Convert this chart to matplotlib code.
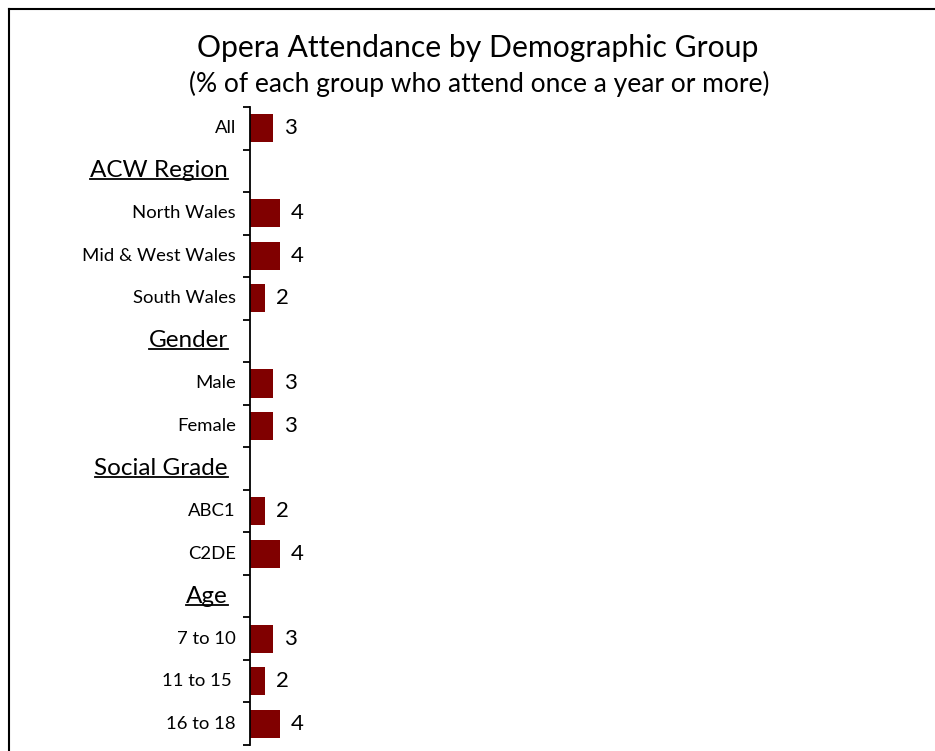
import matplotlib
matplotlib.use("Agg")
import matplotlib.pyplot as plt
from matplotlib.lines import Line2D
from matplotlib.transforms import blended_transform_factory, offset_copy

plt.rcParams['font.family'] = ['Lato', 'DejaVu Sans']

# Rows from top to bottom; headers have no value
categories = ["All", "ACW Region", "North Wales", "Mid & West Wales", "South Wales",
              "Gender", "Male", "Female", "Social Grade", "ABC1", "C2DE",
              "Age", "7 to 10", "11 to 15 ", "16 to 18"]
values = [3, None, 4, 4, 2, None, 3, 3, None, 2, 4, None, 3, 2, 4]
headers = ["ACW Region", "Gender", "Social Grade", "Age"]

title = "Opera Attendance by Demographic Group"
subtitle = "(% of each group who attend once a year or more)"

bar_color = "#800000"

fig = plt.figure(figsize=(9.35, 7.51), dpi=100)
ax = fig.add_axes([250 / 935, 1 - 745 / 751, 675 / 935, (745 - 107) / 751])

rows = list(range(len(categories)))
for y, v in zip(rows, values):
    if v is None:
        continue
    ax.barh(y, v, height=0.66, color=bar_color, edgecolor="none")
    ax.annotate(str(v), xy=(v, y), xytext=(8, 0), textcoords="offset points",
                ha="left", va="center", fontsize=16, color="black")

ax.set_xlim(0, 90)
ax.set_ylim(len(categories) - 0.5, -0.5)
ax.set_xticks([])
ax.set_yticks([r - 0.5 for r in rows] + [len(categories) - 0.5])
ax.set_yticklabels([])
ax.tick_params(axis="y", direction="out", length=5, width=1.3, color="black")
for s in ["top", "right", "bottom"]:
    ax.spines[s].set_visible(False)
ax.spines["left"].set_linewidth(1.3)

# Category labels left of the axis
trans = blended_transform_factory(ax.transAxes, ax.transData)
label_texts = []
for y, name in zip(rows, categories):
    if name in headers:
        t = ax.text(0, y, name, transform=offset_copy(trans, fig=fig, x=-22, y=0, units="dots"),
                    ha="right", va="center", fontsize=17.5)
        label_texts.append(t)
    else:
        ax.text(0, y, name, transform=offset_copy(trans, fig=fig, x=-14, y=0, units="dots"),
                ha="right", va="center", fontsize=13.3)

fig.text(478 / 935, 1 - 48 / 751, title, ha="center", va="center", fontsize=21.7)
fig.text(479 / 935, 1 - 84 / 751, subtitle, ha="center", va="center", fontsize=19)

# Underline the section headers
fig.canvas.draw()
renderer = fig.canvas.get_renderer()
inv = fig.transFigure.inverted()
for t in label_texts:
    bb = t.get_window_extent(renderer)
    (x0, y0), (x1, _) = inv.transform([(bb.x0, bb.y0 + 2), (bb.x1, bb.y0)])
    fig.add_artist(Line2D([x0, x1], [y0, y0], transform=fig.transFigure,
                          color="black", lw=1.3))

# Frame lines along the top and left edges
fig.add_artist(Line2D([8.5 / 935, 1], [1 - 8.5 / 751, 1 - 8.5 / 751],
                      transform=fig.transFigure, color="black", lw=1.5))
fig.add_artist(Line2D([8.5 / 935, 8.5 / 935], [1 - 8.5 / 751, 0],
                      transform=fig.transFigure, color="black", lw=1.5))

fig.savefig("out.png", dpi=100, facecolor="white")
